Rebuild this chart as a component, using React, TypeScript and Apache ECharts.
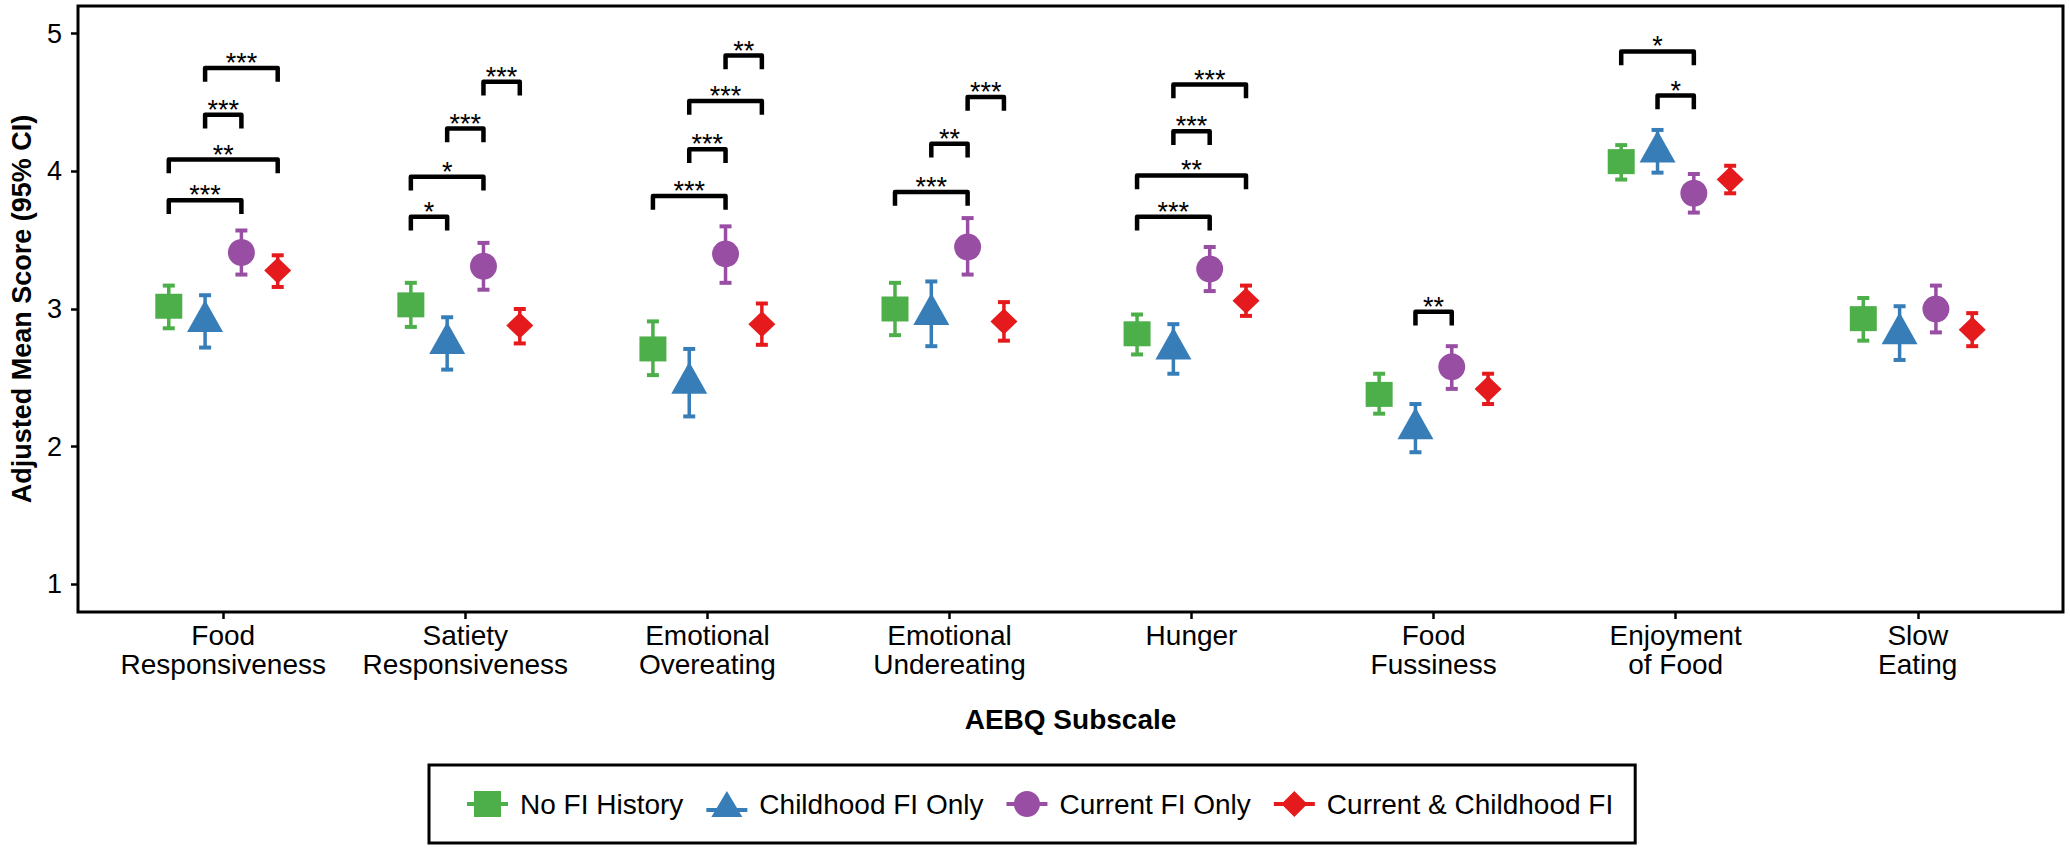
import React, { useEffect, useRef } from "react";
import * as echarts from "echarts";

// ---------- data ----------
const categories = [
  "Food\nResponsiveness",
  "Satiety\nResponsiveness",
  "Emotional\nOvereating",
  "Emotional\nUndereating",
  "Hunger",
  "Food\nFussiness",
  "Enjoyment\nof Food",
  "Slow\nEating",
];
const groupNames = ["No FI History", "Childhood FI Only", "Current FI Only", "Current & Childhood FI"];
const yTicks = [1, 2, 3, 4, 5];

const noFiMean = [3.02, 3.03, 2.71, 3.0, 2.82, 2.38, 4.07, 2.93];
const noFiLow = [2.86, 2.87, 2.52, 2.81, 2.67, 2.24, 3.94, 2.77];
const noFiHigh = [3.17, 3.19, 2.91, 3.19, 2.96, 2.53, 4.19, 3.08];

const childMean = [2.91, 2.75, 2.46, 2.96, 2.71, 2.13, 4.14, 2.82];
const childLow = [2.72, 2.56, 2.22, 2.73, 2.53, 1.96, 3.99, 2.63];
const childHigh = [3.1, 2.94, 2.71, 3.2, 2.89, 2.31, 4.3, 3.02];

const currentMean = [3.41, 3.31, 3.4, 3.45, 3.29, 2.58, 3.84, 3.0];
const currentLow = [3.25, 3.14, 3.19, 3.25, 3.13, 2.42, 3.7, 2.83];
const currentHigh = [3.57, 3.48, 3.6, 3.66, 3.45, 2.73, 3.98, 3.17];

const bothMean = [3.28, 2.88, 2.89, 2.91, 3.06, 2.42, 3.94, 2.85];
const bothLow = [3.16, 2.75, 2.74, 2.77, 2.95, 2.31, 3.84, 2.73];
const bothHigh = [3.39, 3.0, 3.04, 3.05, 3.17, 2.53, 4.04, 2.97];

// [category index, from group, to group, bracket height, label]
const brackets: [number, number, number, number, string][] = [
  [0, 0, 2, 3.79, "***"],
  [0, 0, 3, 4.085, "**"],
  [0, 1, 2, 4.41, "***"],
  [0, 1, 3, 4.75, "***"],
  [1, 0, 1, 3.67, "*"],
  [1, 0, 2, 3.96, "*"],
  [1, 1, 2, 4.31, "***"],
  [1, 2, 3, 4.65, "***"],
  [2, 0, 2, 3.82, "***"],
  [2, 1, 2, 4.16, "***"],
  [2, 1, 3, 4.51, "***"],
  [2, 2, 3, 4.84, "**"],
  [3, 0, 2, 3.85, "***"],
  [3, 1, 2, 4.2, "**"],
  [3, 2, 3, 4.54, "***"],
  [4, 0, 2, 3.67, "***"],
  [4, 0, 3, 3.97, "**"],
  [4, 1, 2, 4.29, "***"],
  [4, 1, 3, 4.63, "***"],
  [5, 1, 2, 2.98, "**"],
  [6, 0, 2, 4.87, "*"],
  [6, 1, 2, 4.55, "*"],
];

// ---------- styling ----------
const colors = ["#4DAF4A", "#377EB8", "#984EA3", "#E41A1C"];
const dodge = [-0.225, -0.075, 0.075, 0.225];
const FONT = "'Liberation Sans', Arial, Helvetica, sans-serif";
const TIP = 0.1;

const groupsData = [
  { mean: noFiMean, low: noFiLow, high: noFiHigh, symbol: "rect", size: [27, 25], offset: [0, 0] },
  { mean: childMean, low: childLow, high: childHigh, symbol: "triangle", size: [36, 32], offset: [0, -5.5] },
  { mean: currentMean, low: currentLow, high: currentHigh, symbol: "circle", size: 27, offset: [0, 0] },
  { mean: bothMean, low: bothLow, high: bothHigh, symbol: "diamond", size: [27, 26], offset: [0, 0] },
];

const legendIcons = [
  "path://M7,0 L34,0 L34,11 L41,11 L41,15 L34,15 L34,26 L7,26 L7,15 L0,15 L0,11 L7,11 Z",
  "path://M20.5,0 L36,26 L5,26 Z M0,17 L41,17 L41,21 L0,21 Z",
  "path://M7.5,13 A13,13 0 1,1 33.5,13 A13,13 0 1,1 7.5,13 Z M0,11 L41,11 L41,15 L0,15 Z",
  "path://M20.5,0 L33.5,13 L20.5,26 L7.5,13 Z M0,11 L41,11 L41,15 L0,15 Z",
];

export default function App() {
  const ref = useRef<HTMLDivElement>(null);

  useEffect(() => {
    if (!ref.current) return;
    const chart = echarts.init(ref.current, undefined, { renderer: "svg" });

    const errorSeries = groupsData.map((g, gi) => ({
      type: "custom",
      name: "ci-" + gi,
      z: 3,
      encode: { x: 0, y: [1, 2] },
      data: categories.map((_, ci) => [ci + dodge[gi], g.low[ci], g.high[ci]]),
      renderItem: (params: any, api: any) => {
        const x = api.value(0);
        const pLo = api.coord([x, api.value(1)]);
        const pHi = api.coord([x, api.value(2)]);
        const capW = 12;
        const capH = 4;
        const c = colors[gi];
        return {
          type: "group",
          children: [
            {
              type: "line",
              shape: { x1: pLo[0], y1: pLo[1], x2: pHi[0], y2: pHi[1] },
              style: { stroke: c, lineWidth: 3.5 },
            },
            {
              type: "rect",
              shape: { x: pHi[0] - capW / 2, y: pHi[1] - capH / 2, width: capW, height: capH },
              style: { fill: c },
            },
            {
              type: "rect",
              shape: { x: pLo[0] - capW / 2, y: pLo[1] - capH / 2, width: capW, height: capH },
              style: { fill: c },
            },
          ],
        };
      },
    }));

    const pointSeries = groupsData.map((g, gi) => ({
      type: "scatter",
      name: groupNames[gi],
      z: 4,
      symbol: g.symbol,
      symbolSize: g.size,
      symbolOffset: g.offset,
      itemStyle: { color: colors[gi], opacity: 1 },
      data: categories.map((_, ci) => [ci + dodge[gi], g.mean[ci]]),
    }));

    const bracketSeries = {
      type: "custom",
      name: "brackets",
      z: 5,
      encode: { x: [0, 1], y: 2 },
      data: brackets.map((b) => [b[0] + dodge[b[1]], b[0] + dodge[b[2]], b[3]]),
      renderItem: (params: any, api: any) => {
        const x1 = api.value(0);
        const x2 = api.value(1);
        const y = api.value(2);
        const a = api.coord([x1, y - TIP]);
        const b = api.coord([x1, y]);
        const c = api.coord([x2, y]);
        const d = api.coord([x2, y - TIP]);
        return {
          type: "group",
          children: [
            {
              type: "polyline",
              shape: { points: [a, b, c, d] },
              style: { stroke: "#000", lineWidth: 4.5, fill: null, lineJoin: "round" },
            },
            {
              type: "text",
              style: {
                x: (b[0] + c[0]) / 2,
                y: b[1] - 5,
                text: brackets[params.dataIndex][4],
                fill: "#000",
                fontSize: 27,
                fontFamily: FONT,
                align: "center",
                verticalAlign: "middle",
              },
            },
          ],
        };
      },
    };

    chart.setOption({
      animation: false,
      backgroundColor: "#ffffff",
      grid: {
        left: 73,
        right: 7,
        top: 6,
        bottom: 237,
        show: true,
        borderColor: "#000",
        borderWidth: 3,
        backgroundColor: "transparent",
      },
      legend: {
        data: groupNames.map((n, i) => ({ name: n, icon: legendIcons[i] })),
        left: 429,
        top: 765,
        orient: "horizontal",
        selectedMode: false,
        itemWidth: 41,
        itemHeight: 26,
        itemGap: 23,
        padding: [25, 22, 25, 38],
        borderColor: "#000",
        borderWidth: 3,
        textStyle: {
          fontSize: 28,
          fontFamily: FONT,
          color: "#000",
          padding: [0, 0, 0, 7],
        },
      },
      xAxis: {
        type: "value",
        min: -0.6,
        max: 7.6,
        name: "AEBQ Subscale",
        nameLocation: "middle",
        nameGap: 93,
        nameTextStyle: { fontSize: 28, fontWeight: "bold", fontFamily: FONT, color: "#000" },
        splitLine: { show: false },
        axisLine: { show: false, onZero: false },
        axisTick: {
          show: true,
          length: 7,
          customValues: categories.map((_, i) => i),
          lineStyle: { color: "#000", width: 2.5 },
        },
        axisLabel: {
          customValues: categories.map((_, i) => i),
          formatter: (v: number) => categories[Math.round(v)] ?? "",
          fontSize: 28,
          lineHeight: 29,
          fontFamily: FONT,
          color: "#000",
          margin: 9,
        },
      },
      yAxis: {
        type: "value",
        min: 0.8,
        max: 5.2,
        name: "Adjusted Mean Score (95% CI)",
        nameLocation: "middle",
        nameGap: 43,
        nameTextStyle: { fontSize: 27, fontWeight: "bold", fontFamily: FONT, color: "#000" },
        splitLine: { show: false },
        axisLine: { show: false, onZero: false },
        axisTick: {
          show: true,
          length: 7,
          customValues: yTicks,
          lineStyle: { color: "#000", width: 2.5 },
        },
        axisLabel: {
          customValues: yTicks,
          fontSize: 27,
          fontFamily: FONT,
          color: "#000",
          margin: 16,
        },
      },
      series: [...errorSeries, ...pointSeries, bracketSeries],
    });

    return () => {
      chart.dispose();
    };
  }, []);

  return (
    <div
      ref={ref}
      style={{ position: "fixed", left: 0, top: 0, width: "2070px", height: "849px", background: "#fff" }}
    />
  );
}
